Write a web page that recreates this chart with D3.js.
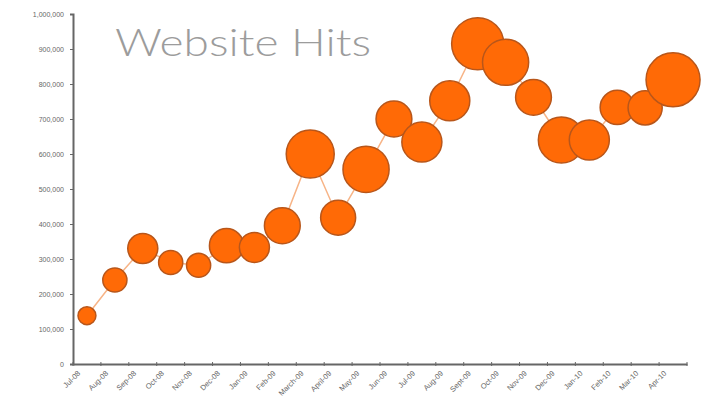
<!DOCTYPE html>
<html>
<head>
<meta charset="utf-8">
<script src="https://cdn.jsdelivr.net/npm/d3@7"></script>
<style>
  body { margin: 0; background: #fff; }
  .axis path, .axis line { stroke: #666; }
  .axis text { fill: #666; font-family: "Liberation Sans", Arial, sans-serif; font-size: 7px; }
</style>
</head>
<body>
<svg id="chart"></svg>
<script>
// months along the bottom
var months = ["Jul-08", "Aug-08", "Sep-08", "Oct-08", "Nov-08", "Dec-08", "Jan-09", "Feb-09",
  "March-09", "April-09", "May-09", "Jun-09", "Jul-09", "Aug-09", "Sept-09", "Oct-09",
  "Nov-09", "Dec-09", "Jan-10", "Feb-10", "Mar-10", "Apr-10"];
// hits per month
var hits = [138000, 240000, 330000, 290000, 282000, 338000, 333000, 395000,
  600000, 418000, 556000, 700000, 634000, 752000, 915000, 862000,
  762000, 640000, 640000, 733000, 732000, 812000];
// bubble size per month
var sizes = [11, 20, 31, 20, 20, 40, 31, 44, 79, 42, 73, 44, 55, 55, 93, 73, 44, 73, 55, 40, 40, 100];
var yTicks = [0, 100000, 200000, 300000, 400000, 500000, 600000, 700000, 800000, 900000, 1000000];

var data = months.map(function (m, i) {
    return { month: m, hits: hits[i], size: sizes[i] };
});

var W = 705, H = 411;
var margin = { top: 14, right: 18, bottom: 47, left: 73 },
    width = W - margin.left - margin.right,
    height = H - margin.top - margin.bottom;

var svg = d3.select("#chart").attr("width", W).attr("height", H);

svg.append("text")
    .attr("x", 115)
    .attr("y", 56)
    .attr("textLength", 256)
    .attr("lengthAdjust", "spacingAndGlyphs")
    .style("font-family", "Lato, 'DejaVu Sans', sans-serif")
    .style("font-weight", 300)
    .style("font-size", "37px")
    .style("fill", "#9c9c9c")
    .text("Website Hits");

var g = svg.append("g")
    .attr("transform", "translate(" + margin.left + "," + margin.top + ")");

var xScale = d3.scaleBand().domain(months).range([0, width]);
var yScale = d3.scaleLinear().domain([0, 1000000]).range([height, 0]);
var rScale = d3.scaleSqrt().domain([0, 100]).range([0, 27]);

// axes
g.append("g")
    .attr("class", "axis")
    .call(d3.axisLeft(yScale).tickValues(yTicks).tickSize(3).tickPadding(6)
        .tickFormat(d3.format(",")))
    .select(".domain").attr("stroke-width", 2);

var xAxis = g.append("g")
    .attr("class", "axis")
    .attr("transform", "translate(0," + height + ")")
    .call(d3.axisBottom(xScale).tickSize(0).tickPadding(0));
xAxis.select(".domain").attr("stroke-width", 2);
// ticks on band edges
xAxis.selectAll(".edge")
    .data(months.concat(["end"]))
    .enter()
    .append("line")
    .attr("class", "edge")
    .attr("x1", function (d, i) { return i * xScale.step(); })
    .attr("x2", function (d, i) { return i * xScale.step(); })
    .attr("y1", -2)
    .attr("y2", 2)
    .attr("stroke", "#666");
xAxis.selectAll(".tick text")
    .attr("text-anchor", "end")
    .style("font-size", "7.5px")
    .attr("transform", "translate(-8,8) rotate(-45)")
    .attr("dy", "0.35em");

// connecting line
var line = d3.line()
    .x(function (d) { return xScale(d.month) + xScale.bandwidth() / 2; })
    .y(function (d) { return yScale(d.hits); });

g.append("path")
    .datum(data)
    .attr("d", line)
    .attr("fill", "none")
    .attr("stroke", "#f7b487")
    .attr("stroke-width", 1.5);

// bubbles
g.selectAll(".bubble")
    .data(data)
    .enter()
    .append("circle")
    .attr("class", "bubble")
    .attr("cx", function (d) { return xScale(d.month) + xScale.bandwidth() / 2; })
    .attr("cy", function (d) { return yScale(d.hits); })
    .attr("r", function (d) { return rScale(d.size); })
    .attr("fill", "#ff6a06")
    .attr("stroke", "#b8561a")
    .attr("stroke-width", 1.5);
</script>
</body>
</html>
